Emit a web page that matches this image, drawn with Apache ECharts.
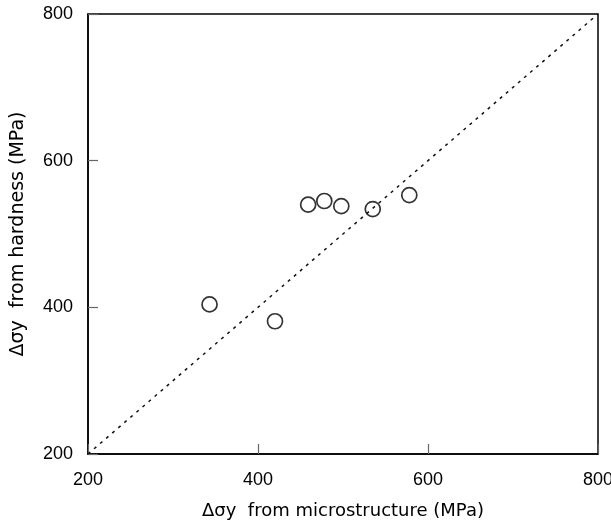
<!DOCTYPE html>
<html><head><meta charset="utf-8">
<script src="https://cdn.jsdelivr.net/npm/echarts@6/dist/echarts.min.js"></script>
<style>html,body{margin:0;padding:0;background:#fff}#c{width:611px;height:526px}</style>
</head><body><div id="c"></div>
<script>
const xMicro = [343, 420, 459, 478, 498, 535, 578];
const yHard = [404, 381, 540, 545, 538, 534, 553];
const lineX = [200, 800];
const lineY = [200, 800];
const xTitle = 'Δσy  from microstructure (MPa)';
const yTitle = 'Δσy  from hardness (MPa)';

const chart = echarts.init(document.getElementById('c'));
const pts = xMicro.map((x, i) => [x, yHard[i]]);
const ln = lineX.map((x, i) => [x, lineY[i]]);
const axisCommon = {
  min: 200, max: 800, interval: 200,
  axisLine: {show: true, lineStyle: {color: '#000', width: 1.5}},
  axisTick: {show: true, inside: true, length: 10, lineStyle: {color: '#666', width: 1.2}},
  splitLine: {show: false},
  axisLabel: {color: '#000', fontSize: 18, fontFamily: '"Liberation Sans", Arial, sans-serif'},
  nameLocation: 'middle'
};
chart.setOption({
  animation: false,
  grid: {left: 88, right: 13, top: 14, bottom: 72, containLabel: false, outerBoundsMode: 'none',
         show: true, borderColor: '#000', borderWidth: 1.5},
  xAxis: Object.assign({}, axisCommon, {type: 'value', name: xTitle, nameGap: 48,
    nameTextStyle: {color: '#000', fontSize: 18, fontFamily: '"DejaVu Sans", sans-serif'},
    axisLabel: Object.assign({}, axisCommon.axisLabel, {margin: 17})}),
  yAxis: Object.assign({}, axisCommon, {type: 'value', name: yTitle, nameGap: 60,
    nameTextStyle: {color: '#000', fontSize: 19, fontFamily: '"DejaVu Sans", sans-serif'},
    axisLabel: Object.assign({}, axisCommon.axisLabel, {margin: 15})}),
  series: [
    {type: 'line', data: ln, symbol: 'none', silent: true,
     lineStyle: {color: '#111', width: 1.5, type: [3, 5]}},
    {type: 'scatter', data: pts, symbol: 'circle', symbolSize: 15,
     itemStyle: {color: '#fff', borderColor: '#000', borderWidth: 1.7}}
  ]
});
</script></body></html>
